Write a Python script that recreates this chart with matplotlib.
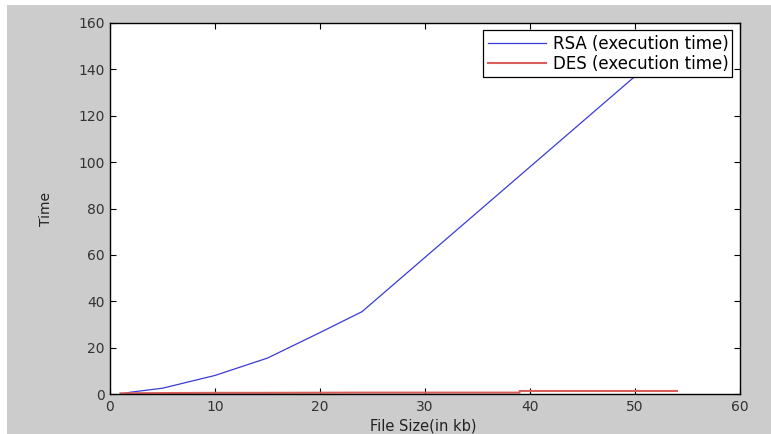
import matplotlib.pyplot as plt
from matplotlib.patches import Rectangle

# File sizes (kb) and execution times
rsa_size = [1, 2, 5, 10, 15, 20, 24, 50, 54]
rsa_time = [0, 0.8, 2.5, 8, 15.5, 26.5, 35.5, 137, 152]

des_size = [1, 5, 10, 15, 24, 39, 39, 50, 54]
des_time = [0.3, 0.4, 0.5, 0.5, 0.6, 0.6, 1.3, 1.3, 1.3]

fig = plt.figure(figsize=(7.71, 4.34), dpi=100, facecolor="white")
# grey MATLAB-like figure panel, leaving the thin white strip at left/top
fig.add_artist(Rectangle((7 / 771, 0), 1, 1 - 5 / 434, transform=fig.transFigure,
                         facecolor="#cccccc", edgecolor="none", zorder=-10))

ax = fig.add_axes([110 / 771, 40 / 434, 630 / 771, 371 / 434])
ax.set_facecolor("white")

ax.plot(rsa_size, rsa_time, color="#3b3bd8", linewidth=0.9, label="RSA (execution time)")
ax.plot(des_size, des_time, color="#d9605a", linewidth=1.5, label="DES (execution time)")

ax.set_xlim(0, 60)
ax.set_ylim(0, 160)
ax.set_xticks(range(0, 61, 10))
ax.set_yticks(range(0, 161, 20))
ax.tick_params(direction="in", top=True, right=True, length=4, width=0.8,
               labelsize=10, labelcolor="#333333", pad=4)
for s in ax.spines.values():
    s.set_linewidth(1.0)

ax.set_xlabel("File Size(in kb)", fontsize=10.5, color="#222222")
ax.set_ylabel("Time", fontsize=10, color="#222222")
ax.xaxis.set_label_coords(0.498, -0.066)
ax.yaxis.set_label_coords(-0.0905, 0.5)

leg = ax.legend(loc="upper right", fontsize=12, frameon=True, fancybox=False,
                borderaxespad=0.45, handlelength=3.5, borderpad=0.25,
                labelspacing=0.15, handletextpad=0.4)
leg.get_frame().set_edgecolor("black")
leg.get_frame().set_linewidth(0.9)
leg.get_frame().set_alpha(1)

fig.savefig("out.png", dpi=100, facecolor=fig.get_facecolor())
